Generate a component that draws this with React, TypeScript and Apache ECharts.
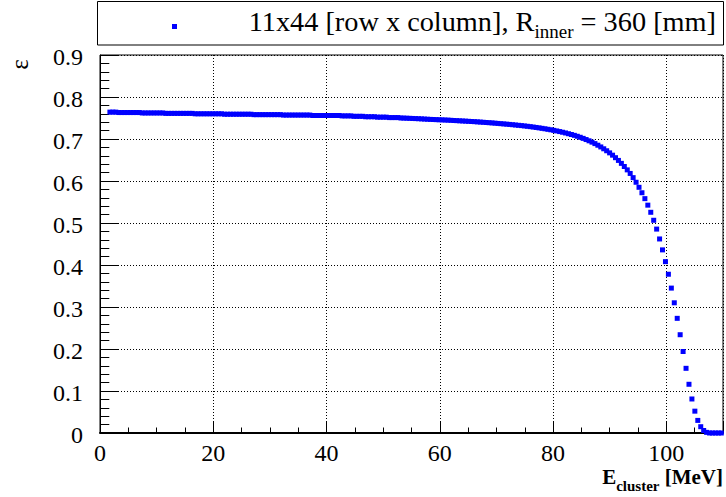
import React, { useEffect, useRef } from 'react';
import * as echarts from 'echarts';

// Histogram binning (bin centres along E_cluster, MeV)
const BIN_START = 1.75;
const BIN_WIDTH = 0.519;

// Efficiency per bin
const EFFICIENCY: number[] = [
  0.764, 0.764, 0.764, 0.763, 0.763, 0.763, 0.763, 0.763, 0.763, 0.763,
  0.763, 0.762, 0.762, 0.762, 0.762, 0.762, 0.762, 0.762, 0.762, 0.761,
  0.761, 0.761, 0.761, 0.761, 0.761, 0.761, 0.761, 0.761, 0.761, 0.760,
  0.760, 0.760, 0.760, 0.760, 0.760, 0.760, 0.760, 0.760, 0.760, 0.759,
  0.759, 0.759, 0.759, 0.759, 0.759, 0.759, 0.759, 0.759, 0.759, 0.758,
  0.758, 0.758, 0.758, 0.758, 0.758, 0.758, 0.758, 0.758, 0.758, 0.757,
  0.757, 0.757, 0.757, 0.757, 0.757, 0.757, 0.757, 0.757, 0.757, 0.756,
  0.756, 0.756, 0.756, 0.756, 0.756, 0.756, 0.756, 0.756, 0.756, 0.755,
  0.755, 0.755, 0.755, 0.754, 0.754, 0.754, 0.754, 0.753, 0.753, 0.753,
  0.753, 0.752, 0.752, 0.752, 0.752, 0.751, 0.751, 0.751, 0.751, 0.750,
  0.7498, 0.7495, 0.7492, 0.7489, 0.7486, 0.7483, 0.7479, 0.7475, 0.7471, 0.7467,
  0.7464, 0.7461, 0.7458, 0.7455, 0.7452, 0.7449, 0.7445, 0.7441, 0.7437, 0.7433,
  0.7429, 0.7425, 0.7421, 0.7417, 0.7413, 0.7408, 0.7403, 0.7398, 0.7393, 0.7388,
  0.7383, 0.7377, 0.7371, 0.7365, 0.7359, 0.7353, 0.7347, 0.7340, 0.7333, 0.7326,
  0.7319, 0.7311, 0.7303, 0.7294, 0.7285, 0.7275, 0.7265, 0.7254, 0.7243, 0.7231,
  0.7219, 0.7206, 0.7192, 0.7177, 0.7161, 0.7144, 0.7126, 0.7107, 0.7087, 0.7065,
  0.7041, 0.7015, 0.6987, 0.6957, 0.6925, 0.6890, 0.6852, 0.6811, 0.6767, 0.6720,
  0.6670, 0.6615, 0.6555, 0.6490, 0.6420, 0.6345, 0.6265, 0.6180, 0.6080, 0.5970,
  0.5850, 0.5720, 0.5580, 0.5425, 0.5255, 0.5065, 0.4855, 0.4620, 0.4360, 0.4080,
  0.3780, 0.3450, 0.3100, 0.2730, 0.2340, 0.1940, 0.1540, 0.1160, 0.0810, 0.0520,
  0.0300, 0.0150, 0.0060, 0.0015, 0, 0, 0, 0, 0,
];

const X_MIN = 0;
const X_MAX = 110;
const X_STEP = 20;
const Y_MIN = 0;
const Y_MAX = 0.9;
const Y_STEP = 0.1;

// Tick labels
const X_TICK_VALUES = [0, 20, 40, 60, 80, 100];
const X_TICK_LABELS = ['0', '20', '40', '60', '80', '100'];
const Y_TICK_VALUES = [0, 0.1, 0.2, 0.3, 0.4, 0.5, 0.6, 0.7, 0.8, 0.9];
const Y_TICK_LABELS = ['0', '0.1', '0.2', '0.3', '0.4', '0.5', '0.6', '0.7', '0.8', '0.9'];

const LEGEND_MAIN = '11x44 [row x column], R';
const LEGEND_SUB = 'inner';
const LEGEND_TAIL = ' = 360 [mm]';
const X_TITLE_MAIN = 'E';
const X_TITLE_SUB = 'cluster';
const X_TITLE_TAIL = ' [MeV]';
const Y_TITLE = 'ε';

const SERIF = 'Liberation Serif';

function textWidth(text: string, font: string): number {
  const canvas = document.createElement('canvas');
  const ctx = canvas.getContext('2d');
  if (!ctx) return text.length * 10;
  ctx.font = font;
  return ctx.measureText(text).width;
}

export default function App() {
  const ref = useRef<HTMLDivElement>(null);

  useEffect(() => {
    if (!ref.current) return;
    const chart = echarts.init(ref.current, null, { renderer: 'svg' });
    const data = EFFICIENCY.map((v, i) => [BIN_START + i * BIN_WIDTH, v]);

    chart.setOption({
      animation: false,
      backgroundColor: '#fff',
      textStyle: { fontFamily: SERIF },
      grid: {
        left: 100,
        right: 3,
        top: 55,
        bottom: 64,
        show: true,
        borderColor: '#000',
        borderWidth: 1,
        backgroundColor: 'transparent',
      },
      xAxis: {
        type: 'value',
        min: X_MIN,
        max: X_MAX,
        interval: X_STEP,
        axisLine: { show: true, onZero: false, lineStyle: { color: '#000', width: 2 } },
        axisTick: { show: true, inside: true, length: 11, lineStyle: { color: '#000', width: 1 } },
        minorTick: { show: true, splitNumber: 4, length: 5.5, lineStyle: { color: '#000', width: 1 } },
        splitLine: { show: true, lineStyle: { color: '#000', width: 1, type: [1, 2] } },
        axisLabel: { show: false },
      },
      yAxis: {
        type: 'value',
        min: Y_MIN,
        max: Y_MAX,
        interval: Y_STEP,
        axisLine: { show: true, onZero: false, lineStyle: { color: '#000', width: 1 } },
        axisTick: { show: true, inside: true, length: 18.5, lineStyle: { color: '#000', width: 1 } },
        minorTick: { show: true, splitNumber: 5, length: 9.3, lineStyle: { color: '#000', width: 1 } },
        splitLine: { show: true, lineStyle: { color: '#000', width: 1, type: [1, 2] } },
        axisLabel: { show: false },
      },
      series: [
        {
          type: 'scatter',
          data,
          symbol: 'rect',
          symbolSize: 5,
          itemStyle: { color: '#0000ff', opacity: 1 },
          silent: true,
          z: 5,
        },
      ],
    });

    // Tick labels drawn as text at positions given by the axes' own scales
    const xAxisY = chart.convertToPixel({ yAxisIndex: 0 }, Y_MIN) as number;
    const yAxisX = chart.convertToPixel({ xAxisIndex: 0 }, X_MIN) as number;
    const xLabels = X_TICK_VALUES.map((v, i) => ({
      type: 'text',
      x: chart.convertToPixel({ xAxisIndex: 0 }, v) as number,
      y: xAxisY + 20,
      z: 11,
      style: {
        text: X_TICK_LABELS[i],
        fontFamily: SERIF,
        fontSize: 24,
        lineHeight: 18,
        align: 'center',
        verticalAlign: 'middle',
        fill: '#000',
      },
    }));
    const yLabels = Y_TICK_VALUES.map((v, i) => ({
      type: 'text',
      x: yAxisX - 17,
      y: (chart.convertToPixel({ yAxisIndex: 0 }, v) as number) + 2,
      z: 11,
      style: {
        text: Y_TICK_LABELS[i],
        fontFamily: SERIF,
        fontSize: 24,
        lineHeight: 18,
        align: 'right',
        verticalAlign: 'middle',
        fill: '#000',
      },
    }));

    const titleRight = 723;
    const wTail = textWidth(X_TITLE_TAIL, `bold 21px ${SERIF}`);
    const wSub = textWidth(X_TITLE_SUB, `bold 15px ${SERIF}`);

    chart.setOption({
      graphic: [
        ...xLabels,
        ...yLabels,
        {
          type: 'rect',
          shape: { x: 97.5, y: 1.5, width: 626, height: 43.5 },
          style: { fill: '#fff', stroke: '#000', lineWidth: 1 },
          z: 10,
        },
        {
          type: 'rect',
          shape: { x: 172, y: 24, width: 5, height: 5 },
          style: { fill: '#0000ff' },
          z: 11,
        },
        {
          type: 'text',
          x: 716,
          y: 1,
          z: 11,
          style: {
            text: `{m|${LEGEND_MAIN}}{s|${LEGEND_SUB}}{m|${LEGEND_TAIL}}`,
            align: 'right',
            verticalAlign: 'top',
            fill: '#000',
            rich: {
              m: { fontFamily: SERIF, fontSize: 28.3, lineHeight: 40, fill: '#000' },
              s: { fontFamily: SERIF, fontSize: 19, lineHeight: 8, verticalAlign: 'bottom', fill: '#000' },
            },
          },
        },
        {
          type: 'text',
          x: titleRight,
          y: 477.4,
          z: 11,
          style: {
            text: X_TITLE_TAIL,
            fontFamily: SERIF,
            fontSize: 21,
            fontWeight: 'bold',
            lineHeight: 16,
            align: 'right',
            verticalAlign: 'middle',
            fill: '#000',
          },
        },
        {
          type: 'text',
          x: titleRight - wTail,
          y: 486.4,
          z: 11,
          style: {
            text: X_TITLE_SUB,
            fontFamily: SERIF,
            fontSize: 15,
            fontWeight: 'bold',
            lineHeight: 12,
            align: 'right',
            verticalAlign: 'middle',
            fill: '#000',
          },
        },
        {
          type: 'text',
          x: titleRight - wTail - wSub,
          y: 477.4,
          z: 11,
          style: {
            text: X_TITLE_MAIN,
            fontFamily: SERIF,
            fontSize: 21,
            fontWeight: 'bold',
            lineHeight: 16,
            align: 'right',
            verticalAlign: 'middle',
            fill: '#000',
          },
        },
        {
          type: 'text',
          x: 19,
          y: 64.5,
          rotation: Math.PI / 2,
          z: 11,
          style: {
            text: Y_TITLE,
            fontFamily: SERIF,
            fontSize: 25,
            align: 'center',
            verticalAlign: 'middle',
            fill: '#000',
          },
        },
      ],
    });

    return () => chart.dispose();
  }, []);

  return (
    <div
      ref={ref}
      style={{ position: 'fixed', left: 0, top: 0, width: 726, height: 497, background: '#fff' }}
    />
  );
}
